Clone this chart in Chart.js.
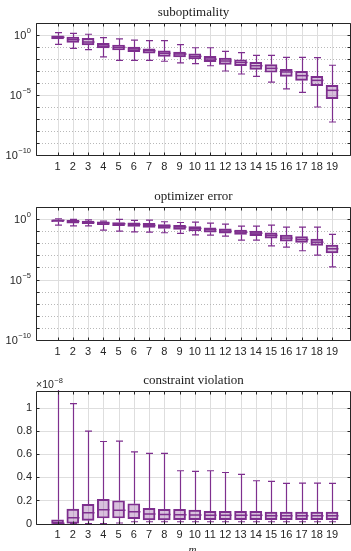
<!DOCTYPE html>
<html>
<head>
<meta charset="utf-8">
<script src="https://cdn.jsdelivr.net/npm/chart.js@4.4.1/dist/chart.umd.min.js"></script>
<style>
  html, body { margin: 0; padding: 0; background: #fff; width: 351px; height: 551px; overflow: hidden; }
  canvas { position: absolute; left: 0; }
</style>
</head>
<body>
<canvas id="subopt" width="351" height="180" style="top:0"></canvas>
<canvas id="opterr" width="351" height="180" style="top:184px"></canvas>
<canvas id="viol" width="351" height="183" style="top:368px"></canvas>
<script>
/* Three MATLAB-style box charts: suboptimality, optimizer error, constraint violation vs m */

var CATS = [1, 2, 3, 4, 5, 6, 7, 8, 9, 10, 11, 12, 13, 14, 15, 16, 17, 18, 19];
var DECADES = [1e-10, 1e-9, 1e-8, 1e-7, 1e-6, 1e-5, 1e-4, 1e-3, 1e-2, 1e-1, 1, 10];
var MAJOR_DECADES = [1e-10, 1e-5, 1];

// suboptimality
var subHi  = [1.55, 1.38, 1.15, 0.60, 0.47, 0.38, 0.34, 0.34, 0.155, 0.087, 0.087, 0.044, 0.034, 0.0204, 0.0204, 0.0138, 0.0138, 0.0129, 0.003];
var subQ3  = [0.87, 0.68, 0.52, 0.204, 0.148, 0.1, 0.072, 0.047, 0.038, 0.0275, 0.0166, 0.012, 0.0087, 0.0052, 0.0034, 0.00138, 0.00093, 0.00036, 6.5e-5];
var subMed = [0.65, 0.41, 0.26, 0.12, 0.093, 0.068, 0.049, 0.03, 0.026, 0.0166, 0.01, 0.0068, 0.0052, 0.00275, 0.00166, 0.00083, 0.00041, 0.000166, 2.45e-5];
var subQ1  = [0.47, 0.245, 0.148, 0.083, 0.056, 0.041, 0.03, 0.0166, 0.0148, 0.01, 0.006, 0.0036, 0.00275, 0.00138, 0.00078, 0.00036, 0.000166, 6.0e-5, 4.9e-6];
var subLo  = [0.166, 0.078, 0.06, 0.0148, 0.0078, 0.0078, 0.0078, 0.0065, 0.0047, 0.0041, 0.00275, 0.001, 0.00056, 0.00036, 0.00012, 3.2e-5, 1.66e-5, 1e-6, 5.6e-8];

// optimizer error
var errHi  = [1.07, 0.93, 0.87, 0.68, 0.93, 0.78, 0.83, 0.60, 0.52, 0.56, 0.47, 0.39, 0.26, 0.26, 0.32, 0.22, 0.22, 0.22, 0.054];
var errQ3  = [0.87, 0.78, 0.68, 0.60, 0.52, 0.50, 0.44, 0.36, 0.30, 0.245, 0.19, 0.158, 0.123, 0.102, 0.074, 0.047, 0.035, 0.022, 0.0071];
var errMed = [0.78, 0.65, 0.52, 0.47, 0.41, 0.36, 0.30, 0.26, 0.22, 0.17, 0.132, 0.102, 0.083, 0.069, 0.045, 0.027, 0.0204, 0.0123, 0.0035];
var errQ1  = [0.60, 0.47, 0.41, 0.34, 0.28, 0.245, 0.204, 0.17, 0.138, 0.107, 0.083, 0.069, 0.054, 0.042, 0.027, 0.015, 0.0117, 0.0066, 0.0016];
var errLo  = [0.32, 0.28, 0.28, 0.123, 0.102, 0.089, 0.083, 0.074, 0.065, 0.05, 0.047, 0.039, 0.018, 0.018, 0.0062, 0.0048, 0.0024, 0.00105, 0.000112];

// constraint violation, in units of 1e-8
var violHi  = [1.3, 1.034, 0.797, 0.708, 0.711, 0.619, 0.605, 0.605, 0.456, 0.45, 0.456, 0.441, 0.424, 0.37, 0.364, 0.347, 0.35, 0.35, 0.347];
var violQ3  = [0.034, 0.126, 0.166, 0.209, 0.198, 0.172, 0.132, 0.123, 0.123, 0.117, 0.106, 0.106, 0.106, 0.106, 0.1, 0.1, 0.1, 0.1, 0.1];
var violMed = [0.004, 0.052, 0.095, 0.12, 0.115, 0.103, 0.083, 0.08, 0.077, 0.074, 0.072, 0.072, 0.072, 0.072, 0.069, 0.069, 0.069, 0.069, 0.069];
var violQ1  = [0, 0.002, 0.029, 0.049, 0.049, 0.043, 0.032, 0.032, 0.034, 0.034, 0.034, 0.034, 0.034, 0.034, 0.034, 0.034, 0.034, 0.034, 0.034];
var violLo  = [0, 0, 0, 0, 0.006, 0.017, 0.017, 0.017, 0.017, 0.017, 0.017, 0.017, 0.017, 0.017, 0.017, 0.017, 0.017, 0.017, 0.017];
var VIOL_TICKS = [0, 0.2, 0.4, 0.6, 0.8, 1];
var VIOL_TICK_LABELS = ['0', '0.2', '0.4', '0.6', '0.8', '1'];

var PURPLE = '#7e2f8e';
var FILL = 'rgba(126, 47, 142, 0.3)';
var AXIS = '#262626';
var GRID = '#dedede';
var MINOR = '#b8b8b8';
var SANS = '"Liberation Sans", Arial, sans-serif';
var SERIF = '"Liberation Serif", "DejaVu Serif", serif';

function decor(spec) {
  return {
    id: 'decor',
    beforeDatasetsDraw: function (chart) {
      var ctx = chart.ctx, a = chart.chartArea, xs = chart.scales.x, ys = chart.scales.y;
      ctx.save();
      ctx.lineWidth = 1;
      ctx.strokeStyle = GRID;
      xs.ticks.forEach(function (t) {
        var px = Math.round(xs.getPixelForValue(t.value)) + 0.5;
        ctx.beginPath(); ctx.moveTo(px, a.top); ctx.lineTo(px, a.bottom); ctx.stroke();
      });
      ys.ticks.forEach(function (t) {
        var py = Math.round(ys.getPixelForValue(t.value)) + 0.5;
        var minor = spec.log && MAJOR_DECADES.indexOf(t.value) < 0;
        ctx.setLineDash(minor ? [1, 2] : []);
        ctx.strokeStyle = minor ? MINOR : GRID;
        ctx.beginPath(); ctx.moveTo(a.left, py); ctx.lineTo(a.right, py); ctx.stroke();
      });
      ctx.restore();
    },
    afterDatasetsDraw: function (chart) {
      var ctx = chart.ctx, a = chart.chartArea, xs = chart.scales.x, ys = chart.scales.y;
      ctx.save();
      ctx.beginPath(); ctx.rect(a.left, a.top - 1, a.right - a.left, a.bottom - a.top + 2); ctx.clip();
      ctx.strokeStyle = PURPLE;
      CATS.forEach(function (c, i) {
        var px = Math.round(xs.getPixelForValue(c)) + 0.5;
        var yHi = ys.getPixelForValue(spec.hi[i]);
        var yQ3 = ys.getPixelForValue(spec.q3[i]);
        var yQ1 = ys.getPixelForValue(spec.q1[i]);
        var yLo = ys.getPixelForValue(spec.lo[i]);
        var yMed = ys.getPixelForValue(spec.med[i]);
        ctx.lineWidth = 1.2;
        ctx.beginPath();
        ctx.moveTo(px, yQ3); ctx.lineTo(px, yHi);
        ctx.moveTo(px - 3.5, yHi); ctx.lineTo(px + 3.5, yHi);
        ctx.moveTo(px, yQ1); ctx.lineTo(px, yLo);
        ctx.moveTo(px - 3.5, yLo); ctx.lineTo(px + 3.5, yLo);
        ctx.stroke();
        ctx.lineWidth = 1.5;
        ctx.beginPath(); ctx.moveTo(px - 6, yMed); ctx.lineTo(px + 6, yMed); ctx.stroke();
      });
      ctx.restore();
    },
    afterDraw: function (chart) {
      var ctx = chart.ctx, a = chart.chartArea, xs = chart.scales.x, ys = chart.scales.y;
      ctx.save();
      ctx.strokeStyle = AXIS;
      ctx.lineWidth = 1;
      var L = a.left + 0.5, R = a.right - 0.5, T = Math.round(a.top) + 0.5, B = Math.round(a.bottom) + 0.5;
      ctx.beginPath(); ctx.rect(L, T, R - L, B - T); ctx.stroke();
      ctx.beginPath();
      xs.ticks.forEach(function (t) {
        var px = Math.round(xs.getPixelForValue(t.value)) + 0.5;
        ctx.moveTo(px, B); ctx.lineTo(px, B - 3);
        ctx.moveTo(px, T); ctx.lineTo(px, T + 3);
      });
      ys.ticks.forEach(function (t) {
        var py = Math.round(ys.getPixelForValue(t.value)) + 0.5;
        ctx.moveTo(L, py); ctx.lineTo(L + 3, py);
        ctx.moveTo(R, py); ctx.lineTo(R - 3, py);
      });
      ctx.stroke();

      ctx.fillStyle = AXIS;
      if (spec.log) {
        MAJOR_DECADES.forEach(function (v) {
          var py = ys.getPixelForValue(v);
          var ex = String(Math.round(Math.log10(v))).replace('-', '\u2212');
          ctx.font = '7.5px ' + SANS;
          ctx.textAlign = 'right';
          ctx.textBaseline = 'middle';
          var ew = ctx.measureText(ex).width;
          ctx.fillText(ex, a.left - 5, py - 4);
          ctx.font = '11px ' + SANS;
          ctx.fillText('10', a.left - 5.5 - ew, py + 1);
        });
      }
      if (spec.exponent) {
        ctx.font = '10.5px ' + SANS;
        ctx.textAlign = 'left';
        ctx.textBaseline = 'middle';
        ctx.fillText('\u00d710', a.left, a.top - 6);
        var bw = ctx.measureText('\u00d710').width;
        ctx.font = '7.5px ' + SANS;
        ctx.fillText(spec.exponent, a.left + bw + 0.5, a.top - 10);
      }
      ctx.font = '13px ' + SERIF;
      ctx.textAlign = 'center';
      ctx.textBaseline = 'middle';
      ctx.fillStyle = '#1a1a1a';
      ctx.fillText(spec.title, (a.left + a.right) / 2, a.top - 10);
      if (spec.xlabel) {
        ctx.font = 'italic 11px ' + SERIF;
        ctx.textBaseline = 'alphabetic';
        ctx.fillText(spec.xlabel, (a.left + a.right) / 2 - 1, chart.height + 1.5);
      }
      ctx.restore();
    }
  };
}

function makeChart(id, spec) {
  var el = document.getElementById(id);
  var axisH = spec.axisH;
  var yScale;
  if (spec.log) {
    yScale = {
      type: 'logarithmic', min: 1e-10, max: 10,
      afterBuildTicks: function (s) { s.ticks = DECADES.map(function (v) { return { value: v }; }); },
      ticks: { display: false },
      grid: { display: false, drawTicks: false },
      border: { display: false },
      afterFit: function (s) { s.width = 36; }
    };
  } else {
    yScale = {
      type: 'linear', min: 0, max: 1.143,
      afterBuildTicks: function (s) { s.ticks = VIOL_TICKS.map(function (v) { return { value: v }; }); },
      ticks: {
        padding: 4, color: AXIS, font: { family: SANS, size: 11 },
        callback: function (v, i) { return VIOL_TICK_LABELS[i]; }
      },
      grid: { display: false, drawTicks: false },
      border: { display: false },
      afterFit: function (s) { s.width = 36; }
    };
  }
  return new Chart(el, {
    type: 'bar',
    data: {
      datasets: [{
        data: CATS.map(function (c, i) { return { x: c, y: [spec.q1[i], spec.q3[i]] }; }),
        backgroundColor: FILL,
        borderColor: PURPLE,
        borderWidth: 1.3,
        borderSkipped: false,
        barThickness: 12
      }]
    },
    options: {
      responsive: false,
      animation: false,
      layout: { padding: { top: 23, left: 0, right: 0, bottom: 0 } },
      plugins: { legend: { display: false }, tooltip: { enabled: false } },
      scales: {
        x: {
          type: 'linear', min: 0.13, max: 19.7,
          afterBuildTicks: function (s) { s.ticks = CATS.map(function (v) { return { value: v }; }); },
          ticks: {
            padding: 5, color: AXIS, maxRotation: 0, autoSkip: false,
            font: { family: SANS, size: 11 },
            callback: function (v) { return String(v); }
          },
          grid: { display: false, drawTicks: false },
          border: { display: false },
          afterFit: function (s) { s.height = axisH; }
        },
        y: yScale
      }
    },
    plugins: [decor(spec)]
  });
}

makeChart('subopt', { title: 'suboptimality', log: true, axisH: 25,
  hi: subHi, q3: subQ3, med: subMed, q1: subQ1, lo: subLo });
makeChart('opterr', { title: 'optimizer error', log: true, axisH: 24,
  hi: errHi, q3: errQ3, med: errMed, q1: errQ1, lo: errLo });
makeChart('viol', { title: 'constraint violation', log: false, axisH: 27.3, exponent: '\u22128', xlabel: 'm',
  hi: violHi, q3: violQ3, med: violMed, q1: violQ1, lo: violLo });
</script>
</body>
</html>
